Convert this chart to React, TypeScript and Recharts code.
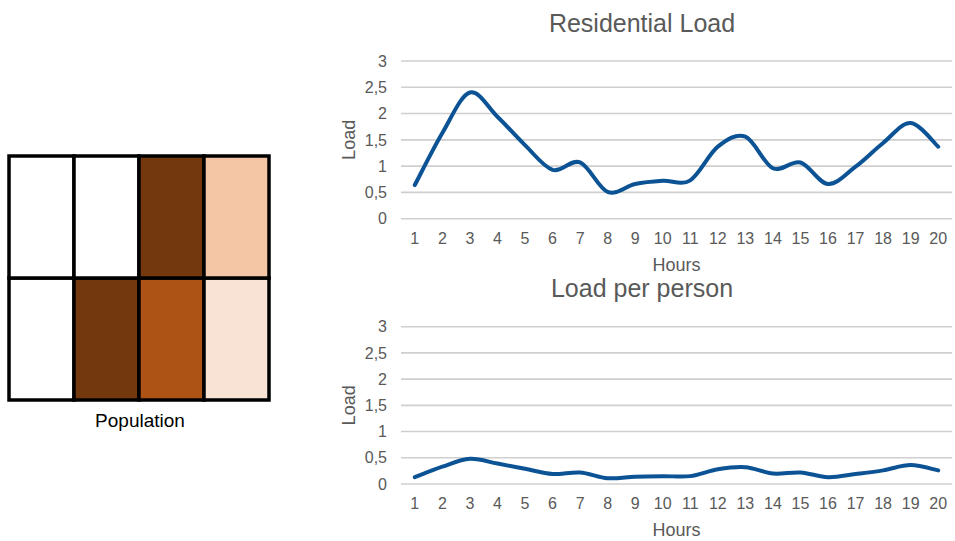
import React from 'react';
import { LineChart, Line, XAxis, YAxis, CartesianGrid, BarChart, Bar, Cell, Label } from 'recharts';

// ---- Data ----
const hours = [1, 2, 3, 4, 5, 6, 7, 8, 9, 10, 11, 12, 13, 14, 15, 16, 17, 18, 19, 20];
const residentialLoad = [0.64, 1.63, 2.4, 1.94, 1.4, 0.93, 1.07, 0.51, 0.66, 0.72, 0.73, 1.37, 1.56, 0.96, 1.07, 0.66, 0.99, 1.44, 1.82, 1.37];
const loadPerPerson = [0.13, 0.33, 0.48, 0.39, 0.29, 0.19, 0.22, 0.11, 0.14, 0.15, 0.15, 0.28, 0.32, 0.2, 0.22, 0.13, 0.19, 0.26, 0.36, 0.26];
const loadTicks = [0, 0.5, 1, 1.5, 2, 2.5, 3];

const popColumns = ['c1', 'c2', 'c3', 'c4'];
const popBottomRow = [1, 1, 1, 1];
const popTopRow = [1, 1, 1, 1];
const popBottomColors = ['#ffffff', '#74380f', '#ad5315', '#f9e3d4'];
const popTopColors = ['#ffffff', '#ffffff', '#74380f', '#f4c6a5'];

const FONT = '"Liberation Sans", Arial, sans-serif';
const GRAY = '#595959';
const LINE = '#0b5394';

const popData = popColumns.map((c, i) => ({ col: c, bottom: popBottomRow[i], top: popTopRow[i] }));

// Excel-like smoothed line (uniform Catmull-Rom as cubic Beziers)
function smoothCurve(context: any) {
  let pts: [number, number][] = [];
  return {
    areaStart() {},
    areaEnd() {},
    lineStart() {
      pts = [];
    },
    point(x: number, y: number) {
      pts.push([+x, +y]);
    },
    lineEnd() {
      const n = pts.length;
      if (n === 0) return;
      context.moveTo(pts[0][0], pts[0][1]);
      if (n === 1) return;
      for (let i = 0; i < n - 1; i++) {
        const p0 = pts[i === 0 ? 0 : i - 1];
        const p1 = pts[i];
        const p2 = pts[i + 1];
        const p3 = pts[i + 2 < n ? i + 2 : n - 1];
        const c1x = p1[0] + (p2[0] - p0[0]) / 6;
        const c1y = p1[1] + (p2[1] - p0[1]) / 6;
        const c2x = p2[0] - (p3[0] - p1[0]) / 6;
        const c2y = p2[1] - (p3[1] - p1[1]) / 6;
        context.bezierCurveTo(c1x, c1y, c2x, c2y, p2[0], p2[1]);
      }
    },
  };
}

type LoadChartProps = {
  title: string;
  values: number[];
  top: number;
  height: number;
  marginTop: number;
  marginBottom: number;
  titleTop: number;
};

function LoadChart({ title, values, top, height, marginTop, marginBottom, titleTop }: LoadChartProps) {
  const data = hours.map((h, i) => ({ hour: h, value: values[i] }));
  return (
    <>
      <div
        style={{
          position: 'absolute',
          left: 442,
          top: titleTop,
          width: 400,
          textAlign: 'center',
          fontFamily: FONT,
          fontSize: 25,
          lineHeight: '25px',
          color: GRAY,
          whiteSpace: 'nowrap',
        }}
      >
        {title}
      </div>
      <div style={{ position: 'absolute', left: 330, top, width: 625, height }}>
        <LineChart
          width={625}
          height={height}
          data={data}
          margin={{ top: marginTop, right: 3, bottom: marginBottom, left: 0 }}
        >
          <CartesianGrid vertical={false} stroke="#cfcfcf" strokeWidth={1.6} />
          <XAxis
            dataKey="hour"
            type="category"
            padding={{ left: 13.8, right: 13.8 }}
            axisLine={false}
            tickLine={false}
            tickSize={0}
            tickMargin={14}
            height={40}
            interval={0}
            tick={{ fontFamily: FONT, fontSize: 16, fill: GRAY }}
          >
            <Label
              content={(props: any) => {
                const vb = props.viewBox || {};
                return (
                  <text
                    x={vb.x + vb.width / 2}
                    y={vb.y + 52}
                    textAnchor="middle"
                    fontFamily={FONT}
                    fontSize={18}
                    fill={GRAY}
                  >
                    Hours
                  </text>
                );
              }}
            />
          </XAxis>
          <YAxis
            domain={[0, 3]}
            ticks={loadTicks}
            width={71}
            axisLine={false}
            tickLine={false}
            tickSize={0}
            tickMargin={14}
            tickFormatter={(v: number) => String(v).replace('.', ',')}
            tick={{ fontFamily: FONT, fontSize: 16, fill: GRAY }}
          >
            <Label
              content={(props: any) => {
                const vb = props.viewBox || {};
                const cx = vb.x + 25;
                const cy = vb.y + vb.height / 2;
                return (
                  <text
                    x={cx}
                    y={cy}
                    textAnchor="middle"
                    transform={`rotate(-90 ${cx} ${cy})`}
                    fontFamily={FONT}
                    fontSize={18}
                    fill={GRAY}
                  >
                    Load
                  </text>
                );
              }}
            />
          </YAxis>
          <Line
            type={smoothCurve as any}
            dataKey="value"
            stroke={LINE}
            strokeWidth={4}
            strokeLinecap="round"
            strokeLinejoin="round"
            dot={false}
            activeDot={false}
            isAnimationActive={false}
          />
        </LineChart>
      </div>
    </>
  );
}

export default function App() {
  return (
    <div style={{ position: 'absolute', left: 0, top: 0, width: 955, height: 541, background: '#ffffff', overflow: 'hidden' }}>
      <div style={{ position: 'absolute', left: 6, top: 153, width: 266, height: 250 }}>
        <BarChart
          width={266}
          height={250}
          data={popData}
          margin={{ top: 3, right: 3, bottom: 3, left: 3 }}
          barCategoryGap={0}
          barGap={0}
        >
          <XAxis dataKey="col" hide />
          <YAxis domain={[0, 2]} hide />
          <Bar dataKey="bottom" stackId="p" isAnimationActive={false}>
            {popData.map((d, i) => (
              <Cell key={'b' + i} fill={popBottomColors[i]} stroke="#000000" strokeWidth={3.5} />
            ))}
          </Bar>
          <Bar dataKey="top" stackId="p" isAnimationActive={false}>
            {popData.map((d, i) => (
              <Cell key={'t' + i} fill={popTopColors[i]} stroke="#000000" strokeWidth={3.5} />
            ))}
          </Bar>
        </BarChart>
      </div>
      <div
        style={{
          position: 'absolute',
          left: 40,
          top: 411,
          width: 200,
          textAlign: 'center',
          fontFamily: FONT,
          fontSize: 19,
          lineHeight: '19px',
          color: '#000000',
        }}
      >
        Population
      </div>
      <LoadChart
        title="Residential Load"
        values={residentialLoad}
        top={0}
        height={280}
        marginTop={61}
        marginBottom={21.3}
        titleTop={11}
      />
      <LoadChart
        title="Load per person"
        values={loadPerPerson}
        top={270}
        height={271}
        marginTop={56.7}
        marginBottom={17}
        titleTop={276}
      />
    </div>
  );
}
